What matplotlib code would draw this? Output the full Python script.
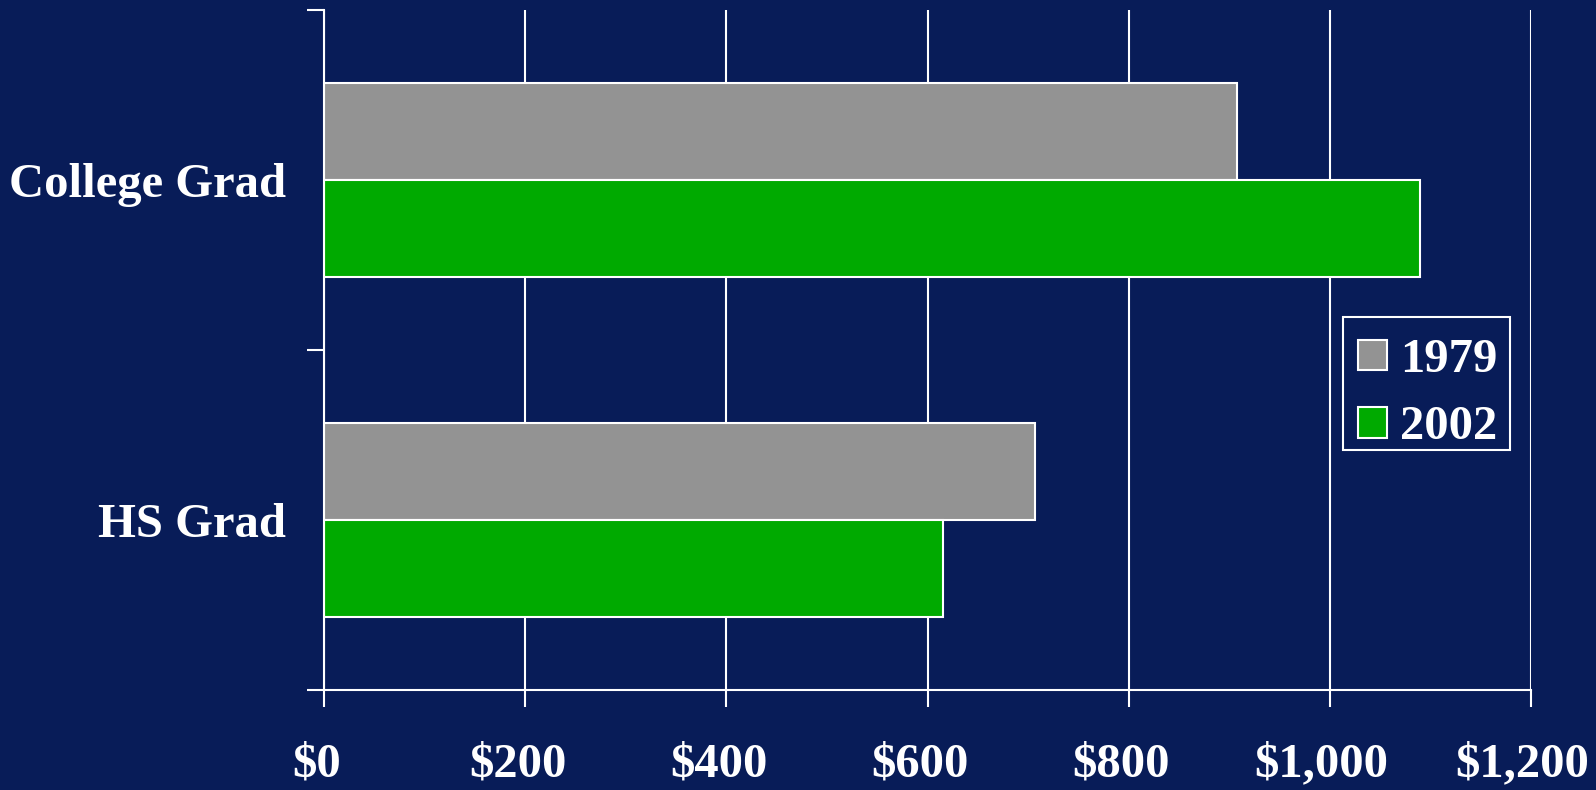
import matplotlib
matplotlib.use("Agg")
import matplotlib.pyplot as plt
import matplotlib.transforms as mtransforms
from matplotlib.patches import Rectangle
import numpy as np

# weekly earnings by education level
categories = ["College Grad", "HS Grad"]
years = ["1979", "2002"]
earnings_1979 = [908, 707]
earnings_2002 = [1090, 615]
x_ticks = [0, 200, 400, 600, 800, 1000, 1200]
x_labels = ["$0", "$200", "$400", "$600", "$800", "$1,000", "$1,200"]

bg = "#081C58"
W, H = 1596, 790
plt.rcParams["font.family"] = ["Liberation Serif", "DejaVu Serif"]
plt.rcParams["font.weight"] = "bold"

fig = plt.figure(figsize=(W / 100, H / 100), dpi=100, facecolor=bg)
ax = fig.add_axes([0.2033, 0.1266, 0.9590 - 0.2033, 0.9873 - 0.1266])
ax.set_facecolor(bg)

pos = np.arange(len(categories))
h = 0.285
ax.barh(pos - h / 2, earnings_1979, height=h, color="#939393",
        edgecolor="white", linewidth=1.5, label=years[0])
ax.barh(pos + h / 2, earnings_2002, height=h, color="#00AA00",
        edgecolor="white", linewidth=1.5, label=years[1])

ax.set_xlim(0, 1200)
ax.set_ylim(1.5, -0.5)
ax.set_axisbelow(True)
ax.grid(axis="x", color="white", linewidth=1.5)

ax.set_xticks(x_ticks)
ax.set_xticklabels(x_labels, fontsize=35, color="white", fontweight="bold")
ax.tick_params(axis="x", length=12, width=1.5, color="white", pad=26)
# labels sit a little left of their ticks in the original
shift = mtransforms.ScaledTranslation(-0.08, 0, fig.dpi_scale_trans)
for lab in ax.get_xticklabels():
    lab.set_transform(lab.get_transform() + shift)

# labels at category centers, tick marks at the boundaries
ax.set_yticks(pos)
ax.set_yticklabels(categories, fontsize=35, color="white", fontweight="bold")
ax.tick_params(axis="y", which="major", length=0, pad=28)
ax.set_yticks([-0.5, 0.5, 1.5], minor=True)
ax.tick_params(axis="y", which="minor", length=12, width=1.5, color="white")

for s in ["top", "right"]:
    ax.spines[s].set_visible(False)
for s in ["left", "bottom"]:
    ax.spines[s].set_color("white")
    ax.spines[s].set_linewidth(1.5)

# legend entries without frame, the box is drawn separately
leg = ax.legend(loc="upper right", bbox_to_anchor=(1510 / W, 1 - 326 / H),
                bbox_transform=fig.transFigure, borderaxespad=0,
                fontsize=35, frameon=False,
                handlelength=0.6, handleheight=0.6, handletextpad=0.28,
                labelspacing=0.48, borderpad=0.25)
for t in leg.get_texts():
    t.set_color("white")
fig.patches.append(Rectangle((1343 / W, 1 - 450 / H), (1510 - 1343) / W, 133 / H,
                             transform=fig.transFigure, fill=False,
                             edgecolor="white", linewidth=1.5))

fig.savefig("out.png", dpi=100, facecolor=bg)
